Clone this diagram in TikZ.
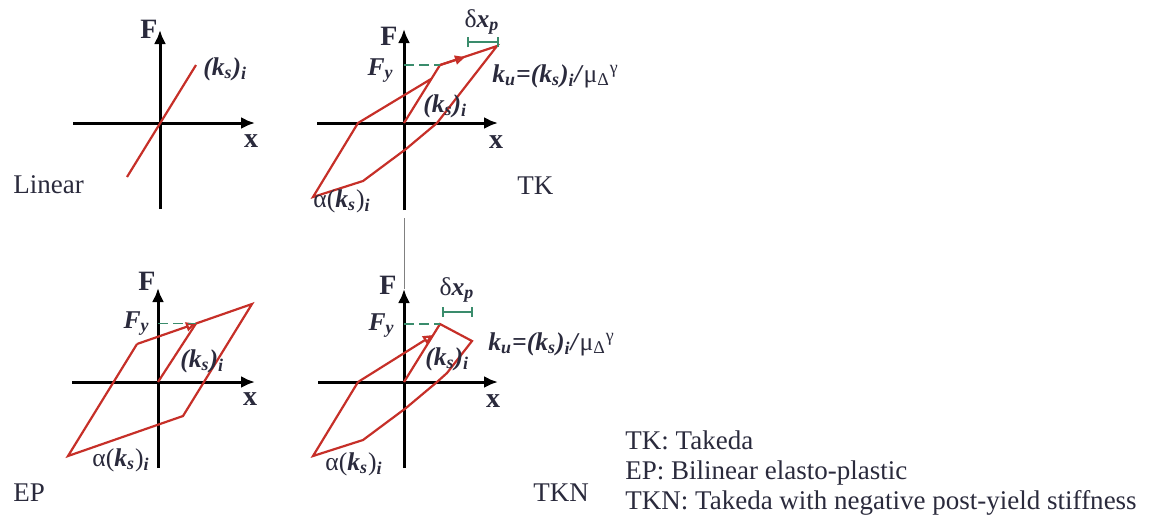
\documentclass[tikz,border=0pt]{standalone}
\usepackage{fontspec}
\setmainfont{Liberation Serif}
\usetikzlibrary{arrows.meta}
\definecolor{loopred}{HTML}{C62F28}
\definecolor{yieldgreen}{HTML}{3A8C6C}
\definecolor{labelink}{HTML}{2A2A3C}

\newcommand{\bi}[1]{\textbf{\textit{#1}}}
\newcommand{\stiff}{\bi{(k}\textsubscript{\bi{s}}\bi{)}\textsubscript{\bi{i}}}
\newcommand{\softstiff}{α(\bi{k}\textsubscript{\bi{s}})\textsubscript{\bi{i}}}
\newcommand{\unloadstiff}{\bi{k}\textsubscript{\bi{u}}\bi{=(k}\textsubscript{\bi{s}}\bi{)}\textsubscript{\bi{i}}\bi{/}μ\textsubscript{Δ}\textsuperscript{γ}}
\newcommand{\yieldforce}{\bi{F}\textsubscript{\bi{y}}}
\newcommand{\slip}{δ\bi{x}\textsubscript{\bi{p}}}

\begin{document}
\begin{tikzpicture}[x=0.5pt,y=-0.5pt,
  axis/.style={line width=1.5pt, -{Latex[length=7pt,width=6pt]}},
  hyst/.style={draw=loopred, line width=1.1pt, line join=miter},
  dir/.style={draw=loopred, line width=1.1pt, -{Triangle[open,length=5pt,width=4.5pt]}},
  yieldline/.style={draw=yieldgreen, line width=0.9pt, dash pattern=on 5pt off 2.5pt},
  slipbar/.style={draw=yieldgreen, line width=0.9pt, {Bar[width=5pt]}-{Bar[width=5pt]}},
  axlabel/.style={font=\fontsize{14}{16}\selectfont\bfseries, text=labelink, inner sep=0pt},
  tag/.style={font=\fontsize{12.8}{14}\selectfont, text=labelink, inner sep=0pt},
  panelname/.style={font=\fontsize{13.5}{15}\selectfont, text=labelink, inner sep=0pt, anchor=base west}]
\useasboundingbox (0,0) rectangle (1154,521);

% --- Linear ---
\coordinate (linW) at (73,123);
\coordinate (linE) at (255,123);
\coordinate (linS) at (160,209);
\coordinate (linN) at (160,30);
\coordinate (linA) at (127,177);
\coordinate (linB) at (196,65);
\draw[axis] (linW) -- (linE);
\draw[axis] (linS) -- (linN);
\draw[hyst] (linA) -- (linB);
\node[axlabel] (linF) at (149,29) {F};
\node[axlabel] (linX) at (251,141) {x};
\node[tag, anchor=base west] (linK) at (203,75) {\stiff};
\node[panelname] (linName) at (13,193) {Linear};

% --- TK ---
\coordinate (tkW) at (317,123);
\coordinate (tkE) at (498,123);
\coordinate (tkS) at (404,210);
\coordinate (tkN) at (404,29);
\coordinate (tkO) at (404,123);
\coordinate (tkY) at (440,65);
\coordinate (tkM) at (497,46);
\coordinate (tkU1) at (437,123);
\coordinate (tkU2) at (406,149);
\coordinate (tkU3) at (363,181);
\coordinate (tkP) at (313,197);
\coordinate (tkR1) at (358,123);
\coordinate (tkR2) at (431,79);
\coordinate (tkMid) at (465,57);
\coordinate (tkFy) at (404,65);
\coordinate (tkD1) at (467,42);
\coordinate (tkD2) at (499,42);
\draw[axis] (tkW) -- (tkE);
\draw[axis] (tkS) -- (tkN);
\draw[hyst] (tkO) -- (tkY) -- (tkM) -- (tkU1) -- (tkU2) -- (tkU3) -- (tkP) -- (tkR1) -- (tkR2);
\draw[dir] (tkY) -- (tkMid);
\draw[yieldline] (tkFy) -- (tkY);
\draw[slipbar] (tkD1) -- (tkD2);
\node[axlabel] (tkF) at (389,36) {F};
\node[axlabel] (tkX) at (496,142) {x};
\node[tag, anchor=base east] (tkFyl) at (394,75) {\yieldforce};
\node[tag] (tkSlip) at (482,22) {\slip};
\node[tag, anchor=base west] (tkKu) at (492,82) {\unloadstiff};
\node[tag, anchor=base west] (tkK) at (423,112) {\stiff};
\node[tag, anchor=base west] (tkAlpha) at (313,207) {\softstiff};
\node[panelname] (tkName) at (517,194) {TK};

% thin rule between the two right panels
\coordinate (gapTop) at (404,218);
\coordinate (gapBot) at (404,289);
\draw[gray, line width=0.4pt] (gapTop) -- (gapBot);

% --- EP ---
\coordinate (epW) at (72,382);
\coordinate (epE) at (255,382);
\coordinate (epS) at (158,468);
\coordinate (epN) at (158,288);
\coordinate (epO) at (158,382);
\coordinate (epY) at (196,323.5);
\coordinate (epA) at (137,344);
\coordinate (epB) at (252,304);
\coordinate (epC) at (183,416);
\coordinate (epD) at (68,456);
\coordinate (epFy) at (158,323.5);
\draw[axis] (epW) -- (epE);
\draw[axis] (epS) -- (epN);
\draw[hyst] (epO) -- (epY) -- (epB) -- (epC) -- (epD) -- (epA);
\draw[dir] (epA) -- (epY);
\draw[yieldline] (epFy) -- (epY);
\node[axlabel] (epF) at (147,281) {F};
\node[axlabel] (epX) at (250,399) {x};
\node[tag, anchor=base east] (epFyl) at (150,328) {\yieldforce};
\node[tag, anchor=base west] (epK) at (180,367) {\stiff};
\node[tag, anchor=base west] (epAlpha) at (92,466) {\softstiff};
\node[panelname] (epName) at (13,501) {EP};

% --- TKN ---
\coordinate (tknW) at (318,382);
\coordinate (tknE) at (498,382);
\coordinate (tknS) at (404,468);
\coordinate (tknN) at (404,289);
\coordinate (tknO) at (404,382);
\coordinate (tknY) at (440,324);
\coordinate (tknM) at (472,341);
\coordinate (tknU0) at (447,373);
\coordinate (tknU1) at (437,382);
\coordinate (tknU2) at (406,408);
\coordinate (tknU3) at (363,440);
\coordinate (tknP) at (313,456);
\coordinate (tknR1) at (358,382);
\coordinate (tknR2) at (433,335);
\coordinate (tknFy) at (404,324);
\coordinate (tknD1) at (442,312);
\coordinate (tknD2) at (473,312);
\draw[axis] (tknW) -- (tknE);
\draw[axis] (tknS) -- (tknN);
\draw[hyst] (tknO) -- (tknY) -- (tknM) -- (tknU0) -- (tknU1) -- (tknU2) -- (tknU3) -- (tknP) -- (tknR1);
\draw[dir] (tknR1) -- (tknR2);
\draw[yieldline] (tknFy) -- (tknY);
\draw[slipbar] (tknD1) -- (tknD2);
\node[axlabel] (tknF) at (388,285) {F};
\node[axlabel] (tknX) at (493,401) {x};
\node[tag, anchor=base east] (tknFyl) at (395,330) {\yieldforce};
\node[tag] (tknSlip) at (457,290) {\slip};
\node[tag, anchor=base west] (tknKu) at (488,350) {\unloadstiff};
\node[tag, anchor=base west] (tknK) at (425,365) {\stiff};
\node[tag, anchor=base west] (tknAlpha) at (325,470) {\softstiff};
\node[panelname] (tknName) at (533,501) {TKN};

% --- legend ---
\node[panelname] (legTK) at (625,449) {TK: Takeda};
\node[panelname] (legEP) at (625,479) {EP: Bilinear elasto-plastic};
\node[panelname] (legTKN) at (625,509) {TKN: Takeda with negative post-yield stiffness};
\end{tikzpicture}
\end{document}
